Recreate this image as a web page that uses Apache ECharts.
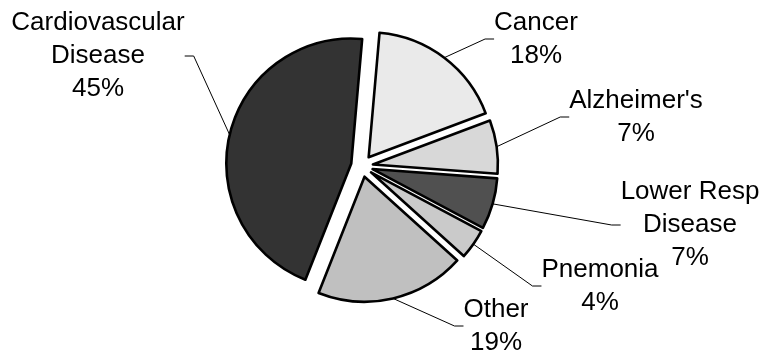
<!DOCTYPE html>
<html>
<head>
<meta charset="utf-8">
<script src="https://cdn.jsdelivr.net/npm/echarts@6/dist/echarts.min.js"></script>
<style>html,body{margin:0;padding:0;background:#fff;}#main{width:769px;height:360px;}</style>
</head>
<body>
<div id="main"></div>
<script>
// Data
var categories = ['Cancer', "Alzheimer's", 'Lower Resp\nDisease', 'Pnemonia', 'Other', 'Cardiovascular\nDisease'];
var shares = [17.9, 6.9, 6.6, 3.9, 19.3, 45.4];

// Styles / layout (not data)
var sliceColors = ['#eaeaea', '#d8d8d8', '#505050', '#cacaca', '#c0c0c0', '#333333'];
var labelCenters = [[536, 39], [636, 117], [690, 225], [600, 286], [496, 326], [98, 56]];
var pieCenter = [362, 166];
var pieRadius = 125;
var startAngle = 85;
var explode = 11;

var total = shares.reduce(function (a, b) { return a + b; }, 0);
var cum = 0;
var series = categories.map(function (c, k) {
  var mid = startAngle - 360 * (cum + shares[k] / 2) / total;
  cum += shares[k];
  var rad = mid * Math.PI / 180;
  var center = [pieCenter[0] + explode * Math.cos(rad), pieCenter[1] - explode * Math.sin(rad)];
  return {
    type: 'pie',
    center: center,
    radius: pieRadius,
    startAngle: startAngle,
    clockwise: true,
    avoidLabelOverlap: false,
    percentPrecision: 0,
    silent: true,
    data: categories.map(function (n, i) {
      var on = i === k;
      return {
        name: n,
        value: shares[i],
        itemStyle: on ? { color: sliceColors[i], borderColor: '#000', borderWidth: 2.6 }
                      : { color: 'rgba(0,0,0,0)', borderWidth: 0 },
        label: { show: on },
        labelLine: { show: on }
      };
    }),
    label: {
      position: 'outside',
      formatter: '{b}\n{d}%',
      fontFamily: 'Liberation Sans, Arial, sans-serif',
      fontSize: 26,
      lineHeight: 33,
      color: '#000'
    },
    labelLine: {
      length: 10,
      length2: 9,
      lineStyle: { color: '#000', width: 1 }
    },
    labelLayout: function (params) {
      var p = labelCenters[params.dataIndex];
      return { x: p[0], y: p[1], align: 'center', verticalAlign: 'middle' };
    }
  };
});

var chart = echarts.init(document.getElementById('main'), null, { renderer: 'canvas' });
chart.setOption({
  animation: false,
  backgroundColor: '#ffffff',
  series: series
});
</script>
</body>
</html>
